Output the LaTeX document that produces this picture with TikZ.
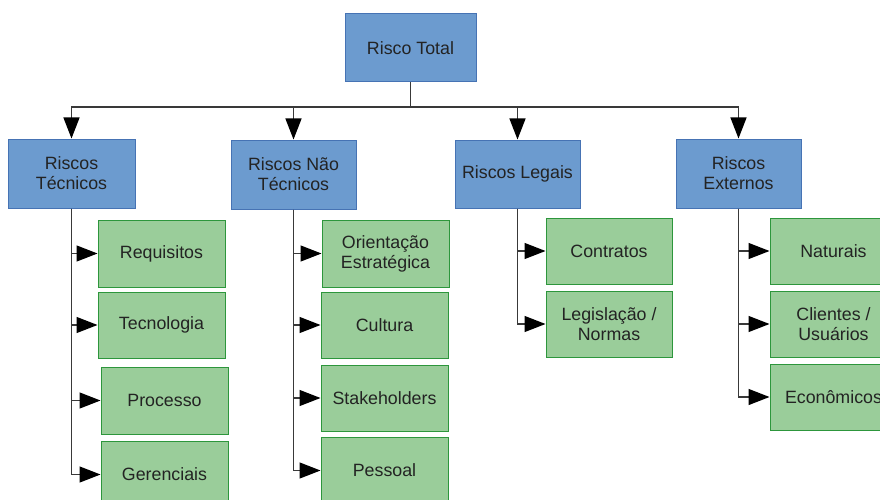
\documentclass[tikz,border=0pt]{standalone}
\usepackage{fontspec}
\setmainfont{Liberation Sans}
\usetikzlibrary{arrows.meta}
\definecolor{boxblue}{RGB}{108,155,207}
\definecolor{lineblue}{RGB}{70,115,180}
\definecolor{boxgreen}{RGB}{154,205,154}
\definecolor{linegreen}{RGB}{45,150,60}
\definecolor{ink}{RGB}{35,35,35}

\begin{document}
\begin{tikzpicture}[x=1pt,y=-1pt,
  main/.style={draw=lineblue,fill=boxblue,line width=1pt,align=center,
    minimum width=125pt,minimum height=69pt,text=ink,
    font=\fontsize{17.8}{20}\selectfont},
  sub/.style={draw=linegreen,fill=boxgreen,line width=1pt,align=center,
    minimum width=127pt,minimum height=66pt,text=ink,
    font=\fontsize{17.8}{20}\selectfont},
  link/.style={draw=ink!90,line width=1.3pt},
  tip/.style={link,-{Triangle[length=21pt,width=16pt,fill=black,color=black]}}]
\useasboundingbox (0,0) rectangle (880,500);
\clip (0,0) rectangle (880,500);
\fill[white] (0,0) rectangle (880,500);

\draw (410.5,48)   node (total) [main,minimum width=131pt,minimum height=68pt] {Risco Total};
\coordinate (bus) at (0,107);

\draw (71.5,173.5)  node (tec)  [main,minimum width=127pt] {Riscos\\Técnicos};
\draw (293.5,174.5) node (ntec) [main] {Riscos Não\\Técnicos};
\draw (517.5,174)   node (leg)  [main,minimum height=68pt] {Riscos Legais};
\draw (738.5,173.5) node (ext)  [main] {Riscos\\Externos};

\draw[link] (total.south) -- (total.south |- bus);
\draw[tip] (total.south |- bus) -| (tec.north);
\draw[tip] (total.south |- bus) -| (ntec.north);
\draw[tip] (total.south |- bus) -| (leg.north);
\draw[tip] (total.south |- bus) -| (ext.north);

% tecnicos
\draw (161.5,253.5) node (req)  [sub,minimum height=67pt] {Requisitos};
\draw (161.5,325)   node (tecn) [sub] {Tecnologia};
\draw (164.5,400.5) node (proc) [sub,minimum height=67pt] {Processo};
\draw (164.5,474.5) node (ger)  [sub,minimum height=67pt] {Gerenciais};
\draw[tip] (tec.south) |- (req.west);
\draw[tip] (tec.south) |- (tecn.west);
\draw[tip] (tec.south) |- (proc.west);
\draw[tip] (tec.south) |- (ger.west);

% nao tecnicos
\draw (385.5,253.5) node (ori)  [sub,minimum height=67pt] {Orientação\\Estratégica};
\draw (384.5,325)   node (cul)  [sub] {Cultura};
\draw (384.5,398)   node (stk)  [sub] {Stakeholders};
\draw (384.5,470.5) node (pes)  [sub,minimum height=67pt] {Pessoal};
\draw[tip] (ntec.south) |- (ori.west);
\draw[tip] (ntec.south) |- (cul.west);
\draw[tip] (ntec.south) |- (stk.west);
\draw[tip] (ntec.south) |- (pes.west);

% legais
\draw (609,251)     node (con)  [sub,minimum width=126pt] {Contratos};
\draw (609,324)     node (lgn)  [sub,minimum width=126pt] {Legislação /\\Normas};
\draw[tip] (leg.south) |- (con.west);
\draw[tip] (leg.south) |- (lgn.west);

% externos
\draw (833.5,251)   node (nat)  [sub] {Naturais};
\draw (833.5,324)   node (cli)  [sub] {Clientes /\\Usuários};
\draw (833.5,397)   node (eco)  [sub] {Econômicos};
\draw[tip] (ext.south) |- (nat.west);
\draw[tip] (ext.south) |- (cli.west);
\draw[tip] (ext.south) |- (eco.west);
\end{tikzpicture}
\end{document}
